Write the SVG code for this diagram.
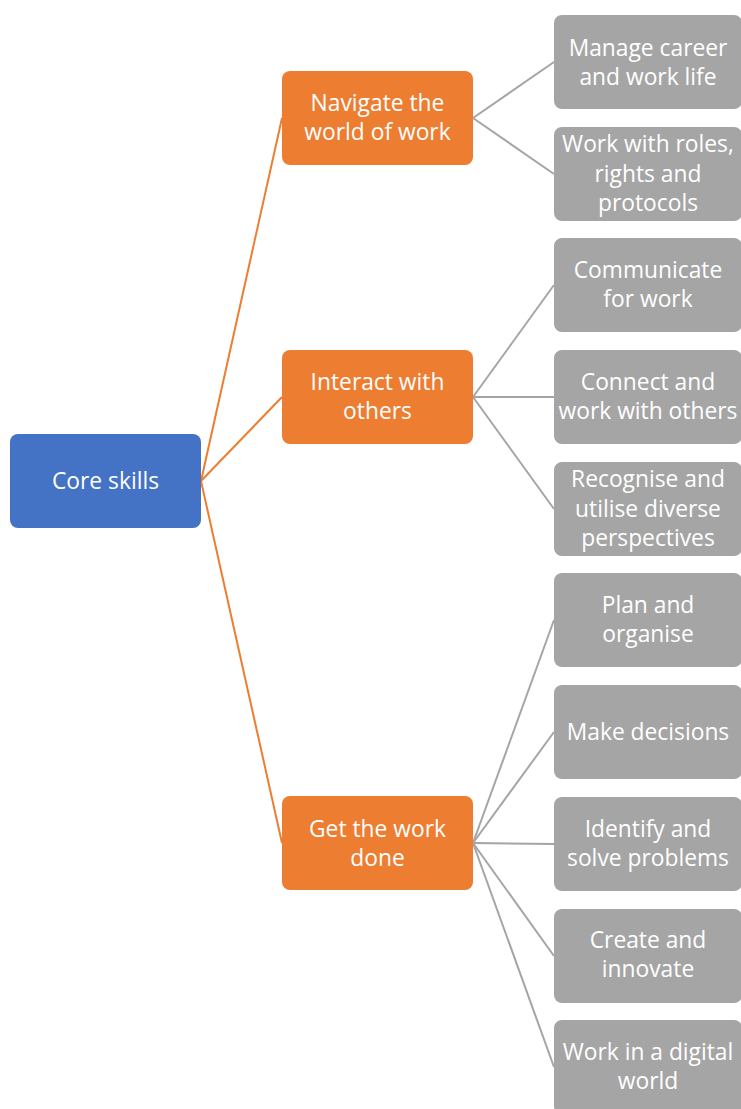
<svg xmlns="http://www.w3.org/2000/svg" width="741" height="1109" viewBox="0 0 741 1109">
<style>
.root{fill:#4472C4}
.mid{fill:#ED7D31}
.leaf{fill:#A5A5A5}
.t{font-family:"Open Sans","Noto Sans","Liberation Sans",sans-serif;font-size:22.8px;fill:#FFFFFF;text-anchor:middle}
.co{stroke:#ED7D31;stroke-width:2;fill:none}
.cg{stroke:#A5A5A5;stroke-width:2;fill:none}
</style>
<rect width="741" height="1109" fill="#FFFFFF"/>
<g id="connectors">
<path class="co" d="M201 481 L282 118"/>
<path class="co" d="M201 481 L282 397"/>
<path class="co" d="M201 481 L282 843"/>
<path class="cg" d="M473 118 L554 62"/>
<path class="cg" d="M473 118 L554 174"/>
<path class="cg" d="M473 397 L554 285"/>
<path class="cg" d="M473 397 L554 397"/>
<path class="cg" d="M473 397 L554 509"/>
<path class="cg" d="M473 843 L554 620"/>
<path class="cg" d="M473 843 L554 732"/>
<path class="cg" d="M473 843 L554 844"/>
<path class="cg" d="M473 843 L554 956"/>
<path class="cg" d="M473 843 L554 1067"/>
</g>
<g id="core-skills">
<rect class="root" x="10" y="434" width="191" height="94" rx="8"/>
<text class="t" x="105.5" y="489">Core skills</text>
</g>
<g id="navigate">
<rect class="mid" x="282" y="71" width="191" height="94" rx="8"/>
<text class="t" x="377.5" y="111">Navigate the</text>
<text class="t" x="377.5" y="140">world of work</text>
</g>
<g id="interact">
<rect class="mid" x="282" y="350" width="191" height="94" rx="8"/>
<text class="t" x="377.5" y="390">Interact with</text>
<text class="t" x="377.5" y="419">others</text>
</g>
<g id="get-work-done">
<rect class="mid" x="282" y="796" width="191" height="94" rx="8"/>
<text class="t" x="377.5" y="837">Get the work</text>
<text class="t" x="377.5" y="866">done</text>
</g>
<g id="manage-career">
<rect class="leaf" x="554" y="15" width="188" height="94" rx="8"/>
<text class="t" x="648" y="56">Manage career</text>
<text class="t" x="648" y="85">and work life</text>
</g>
<g id="roles-rights">
<rect class="leaf" x="554" y="127" width="188" height="94" rx="8"/>
<text class="t" x="648" y="152">Work with roles,</text>
<text class="t" x="648" y="182">rights and</text>
<text class="t" x="648" y="211">protocols</text>
</g>
<g id="communicate">
<rect class="leaf" x="554" y="238" width="188" height="94" rx="8"/>
<text class="t" x="648" y="278">Communicate</text>
<text class="t" x="648" y="307">for work</text>
</g>
<g id="connect">
<rect class="leaf" x="554" y="350" width="188" height="94" rx="8"/>
<text class="t" x="648" y="390">Connect and</text>
<text class="t" x="648" y="419">work with others</text>
</g>
<g id="recognise">
<rect class="leaf" x="554" y="462" width="188" height="94" rx="8"/>
<text class="t" x="648" y="487">Recognise and</text>
<text class="t" x="648" y="517">utilise diverse</text>
<text class="t" x="648" y="546">perspectives</text>
</g>
<g id="plan">
<rect class="leaf" x="554" y="573" width="188" height="94" rx="8"/>
<text class="t" x="648" y="613">Plan and</text>
<text class="t" x="648" y="642">organise</text>
</g>
<g id="decisions">
<rect class="leaf" x="554" y="685" width="188" height="94" rx="8"/>
<text class="t" x="648" y="740">Make decisions</text>
</g>
<g id="identify">
<rect class="leaf" x="554" y="797" width="188" height="94" rx="8"/>
<text class="t" x="648" y="837">Identify and</text>
<text class="t" x="648" y="866">solve problems</text>
</g>
<g id="create">
<rect class="leaf" x="554" y="909" width="188" height="94" rx="8"/>
<text class="t" x="648" y="948">Create and</text>
<text class="t" x="648" y="977">innovate</text>
</g>
<g id="digital">
<rect class="leaf" x="554" y="1020" width="188" height="94" rx="8"/>
<text class="t" x="648" y="1060">Work in a digital</text>
<text class="t" x="648" y="1089">world</text>
</g>
</svg>
